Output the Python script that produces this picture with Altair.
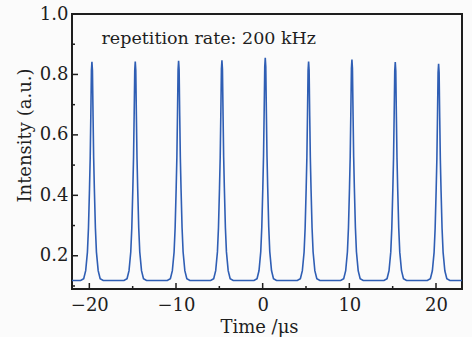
import altair as alt
import pandas as pd

# ---- data ----
pulse_centers = [-19.7, -14.7, -9.7, -4.7, 0.3, 5.3, 10.3, 15.3, 20.3]
peak_values = [0.842, 0.843, 0.845, 0.847, 0.855, 0.843, 0.849, 0.841, 0.835]
baseline = 0.118
# one-sided pulse profile (offset in µs, fraction of peak height above baseline)
profile_offsets = [0.0, 0.06, 0.13, 0.2, 0.28, 0.4, 0.52, 0.72, 0.95, 1.3]
profile_fraction = [1.0, 0.96, 0.75, 0.56, 0.42, 0.24, 0.13, 0.045, 0.008, 0.0]
x_range = [-22, 23]
y_range = [0.09, 1.0]
x_major = [-20, -10, 0, 10, 20]
x_minor = [-15, -5, 5, 15]
y_major = [0.2, 0.4, 0.6, 0.8, 1.0]
y_minor = [0.1, 0.3, 0.5, 0.7, 0.9]
annotation = "repetition rate: 200 kHz"

# ---- build the trace table ----
rows = [{"t": x_range[0], "v": baseline}]
for c, p in zip(pulse_centers, peak_values):
    amp = p - baseline
    for off, fr in zip(profile_offsets[::-1], profile_fraction[::-1]):
        rows.append({"t": c - off, "v": baseline + amp * fr})
    for off, fr in zip(profile_offsets[1:], profile_fraction[1:]):
        rows.append({"t": c + off, "v": baseline + amp * fr})
rows.append({"t": x_range[1], "v": baseline})
trace = pd.DataFrame(rows)

W, H = 390, 275
FONT = "DejaVu Serif"
INK = "#1e1e1e"

xscale = alt.Scale(domain=x_range, nice=False, zero=False)
yscale = alt.Scale(domain=y_range, nice=False, zero=False)
axX = alt.Axis(values=x_major, title="Time /μs", format="d",
               titleX=187, titleY=43, titleBaseline="alphabetic")
axY = alt.Axis(values=y_major, title="Intensity (a.u.)", format=".1f",
               titleX=-42, titleY=121, titleAngle=270,
               titleAlign="center", titleBaseline="alphabetic")

line = alt.Chart(trace).mark_line(color="#2f5eb4", strokeWidth=1.6, clip=True).encode(
    x=alt.X("t:Q", scale=xscale, axis=axX),
    y=alt.Y("v:Q", scale=yscale, axis=axY),
)

xt = pd.DataFrame({"t": x_major + x_minor, "len": [6] * len(x_major) + [3] * len(x_minor)})
yt = pd.DataFrame({"v": y_major + y_minor, "len": [6] * len(y_major) + [3] * len(y_minor)})

xticks_major = alt.Chart(xt[xt["len"] == 6]).mark_rule(color=INK, strokeWidth=1.5).encode(
    x=alt.X("t:Q", scale=xscale, axis=axX), y=alt.value(H), y2=alt.value(H - 6))
xticks_minor = alt.Chart(xt[xt["len"] == 3]).mark_rule(color=INK, strokeWidth=1.5).encode(
    x=alt.X("t:Q", scale=xscale, axis=axX), y=alt.value(H), y2=alt.value(H - 3))
yticks_major = alt.Chart(yt[yt["len"] == 6]).mark_rule(color=INK, strokeWidth=1.5).encode(
    y=alt.Y("v:Q", scale=yscale, axis=axY), x=alt.value(0), x2=alt.value(6))
yticks_minor = alt.Chart(yt[yt["len"] == 3]).mark_rule(color=INK, strokeWidth=1.5).encode(
    y=alt.Y("v:Q", scale=yscale, axis=axY), x=alt.value(0), x2=alt.value(3))

label = alt.Chart(pd.DataFrame({"t": [-18.6], "v": [0.90], "s": [annotation]})).mark_text(
    font=FONT, fontSize=17.5, align="left", baseline="alphabetic", color=INK
).encode(x=alt.X("t:Q", scale=xscale, axis=axX), y=alt.Y("v:Q", scale=yscale, axis=axY), text="s:N")

chart = alt.layer(line, xticks_major, xticks_minor, yticks_major, yticks_minor, label).properties(
    width=W, height=H,
    padding={"left": 72, "top": 14, "right": 10, "bottom": 48},
    autosize=alt.AutoSizeParams(type="none"),
    background="#fbfbfb",
).configure_view(
    stroke=INK, strokeWidth=2
).configure_axis(
    domain=False, grid=False, ticks=False,
    labelFont=FONT, labelFontSize=18, labelColor=INK,
    titleFont=FONT, titleFontSize=18, titleColor=INK, titleFontWeight="normal",
).configure_axisX(labelPadding=7).configure_axisY(labelPadding=4)

chart.save("out.html", embed_options={"renderer": "svg", "actions": False})
